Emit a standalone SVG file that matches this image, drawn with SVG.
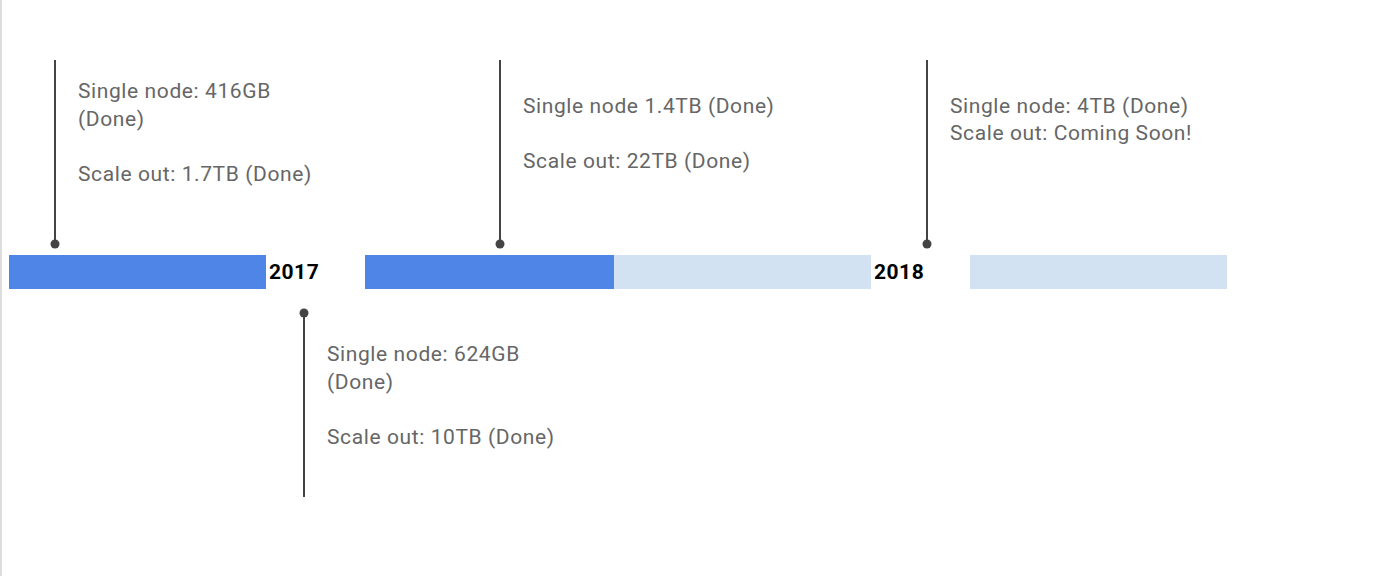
<svg xmlns="http://www.w3.org/2000/svg" width="1378" height="576" viewBox="0 0 1378 576">
<style>
.lbl{font-family:Roboto,"Liberation Sans",sans-serif;font-size:21px;letter-spacing:0.6px;fill:#666666}
.yr{font-family:Roboto,"Liberation Sans",sans-serif;font-size:21px;letter-spacing:0.5px;font-weight:bold;fill:#000000}
.done{fill:#5085E8}
.todo{fill:#D3E2F3}
.stem{stroke:#444444;stroke-width:2;fill:none}
.dot{fill:#444444}
</style>
<rect x="0" y="0" width="1378" height="576" fill="#ffffff"/>
<rect x="0" y="0" width="2" height="576" fill="#dddddd"/>
<g id="timeline">
<rect class="done" x="9" y="255" width="257" height="34"/>
<rect class="done" x="365" y="255" width="249" height="34"/>
<rect class="todo" x="614" y="255" width="257" height="34"/>
<rect class="todo" x="970" y="255" width="257" height="34"/>
<text class="yr" x="269" y="279">2017</text>
<text class="yr" x="874" y="279">2018</text>
</g>
<g id="connectors">
<line class="stem" x1="55" y1="60" x2="55" y2="244"/>
<circle class="dot" cx="55" cy="244" r="4.5"/>
<line class="stem" x1="304" y1="313" x2="304" y2="497"/>
<circle class="dot" cx="304" cy="313" r="4.5"/>
<line class="stem" x1="500" y1="60" x2="500" y2="244"/>
<circle class="dot" cx="500" cy="244" r="4.5"/>
<line class="stem" x1="927" y1="60" x2="927" y2="244"/>
<circle class="dot" cx="927" cy="244" r="4.5"/>
</g>
<g id="m1">
<text class="lbl" x="78" y="98">Single node: 416GB</text>
<text class="lbl" x="78" y="126">(Done)</text>
<text class="lbl" x="78" y="181">Scale out: 1.7TB (Done)</text>
</g>
<g id="m2">
<text class="lbl" x="327" y="361">Single node: 624GB</text>
<text class="lbl" x="327" y="389">(Done)</text>
<text class="lbl" x="327" y="444">Scale out: 10TB (Done)</text>
</g>
<g id="m3">
<text class="lbl" x="523" y="113">Single node 1.4TB (Done)</text>
<text class="lbl" x="523" y="168">Scale out: 22TB (Done)</text>
</g>
<g id="m4">
<text class="lbl" x="950" y="113">Single node: 4TB (Done)</text>
<text class="lbl" x="950" y="140">Scale out: Coming Soon!</text>
</g>
</svg>
